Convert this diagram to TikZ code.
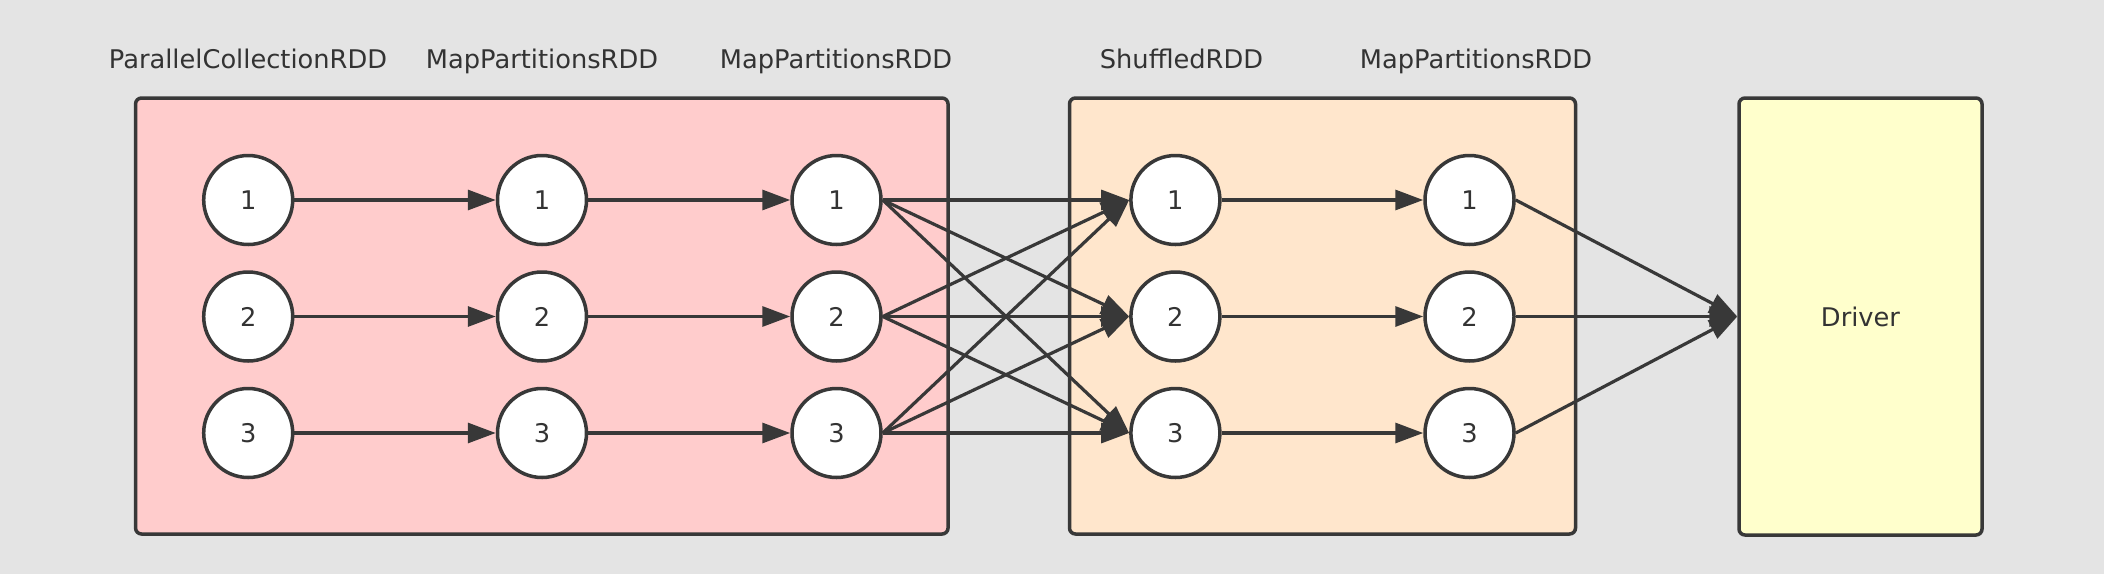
\documentclass[tikz,border=0pt]{standalone}
\usepackage{fontspec}
\setmainfont{DejaVu Sans}
\usetikzlibrary{arrows.meta}
\definecolor{bg}{HTML}{E4E4E4}
\definecolor{ink}{HTML}{383838}
\definecolor{txt}{HTML}{333333}
\definecolor{redfill}{HTML}{FFCCCC}
\definecolor{orfill}{HTML}{FFE6CC}
\definecolor{yelfill}{HTML}{FFFFCC}
\begin{document}
\begin{tikzpicture}[x=1pt,y=-1pt,
  every node/.style={font=\fontsize{25.7}{30}\selectfont, text=txt},
  group/.style={draw=ink, line width=3.5pt, rounded corners=6pt, inner sep=0pt},
  part/.style={circle, draw=ink, fill=white, line width=3.5pt, minimum size=89pt, inner sep=0pt},
  title/.style={inner sep=0pt, anchor=base},
  conn/.style={draw=ink, line width=3.2pt, -{Triangle[length=28pt,width=20pt]}}
]
\fill[bg] (0,0) rectangle (2104,574);
\useasboundingbox (0,0) rectangle (2104,574);

% group boxes
\node[group, fill=redfill, minimum width=812.5pt, minimum height=436pt] (g1) at (541.8,316) {};
\node[group, fill=orfill, minimum width=506pt, minimum height=436pt] (g2) at (1322.5,316) {};
\node[group, fill=yelfill, minimum width=243pt, minimum height=437pt] (drv) at (1860.5,316.5) {Driver};

% titles
\node[title] (t1) at (248,68.3) {ParallelCollectionRDD};
\node[title] (t2) at (542,68.3) {MapPartitionsRDD};
\node[title] (t3) at (836,68.3) {MapPartitionsRDD};
\node[title] (t4) at (1181.5,68.3) {ShuffledRDD};
\node[title] (t5) at (1476,68.3) {MapPartitionsRDD};

% partitions
\foreach \c/\x in {a/248.2,b/542,c/836.5,d/1175.4,e/1469.5}{
  \foreach \r/\y in {1/200,2/316.5,3/433}{
    \node[part] (\c\r) at (\x,\y) {\r};
  }
}

% narrow dependencies
\foreach \r in {1,2,3}{
  \draw[conn] (a\r.east) -- (b\r.west);
  \draw[conn] (b\r.east) -- (c\r.west);
  \draw[conn] (d\r.east) -- (e\r.west);
  \draw[conn] (e\r.east) -- (drv.west);
}

% shuffle dependencies
\foreach \s in {1,2,3}{
  \foreach \t in {1,2,3}{
    \draw[conn] (c\s.east) -- (d\t.west);
  }
}
\end{tikzpicture}
\end{document}
